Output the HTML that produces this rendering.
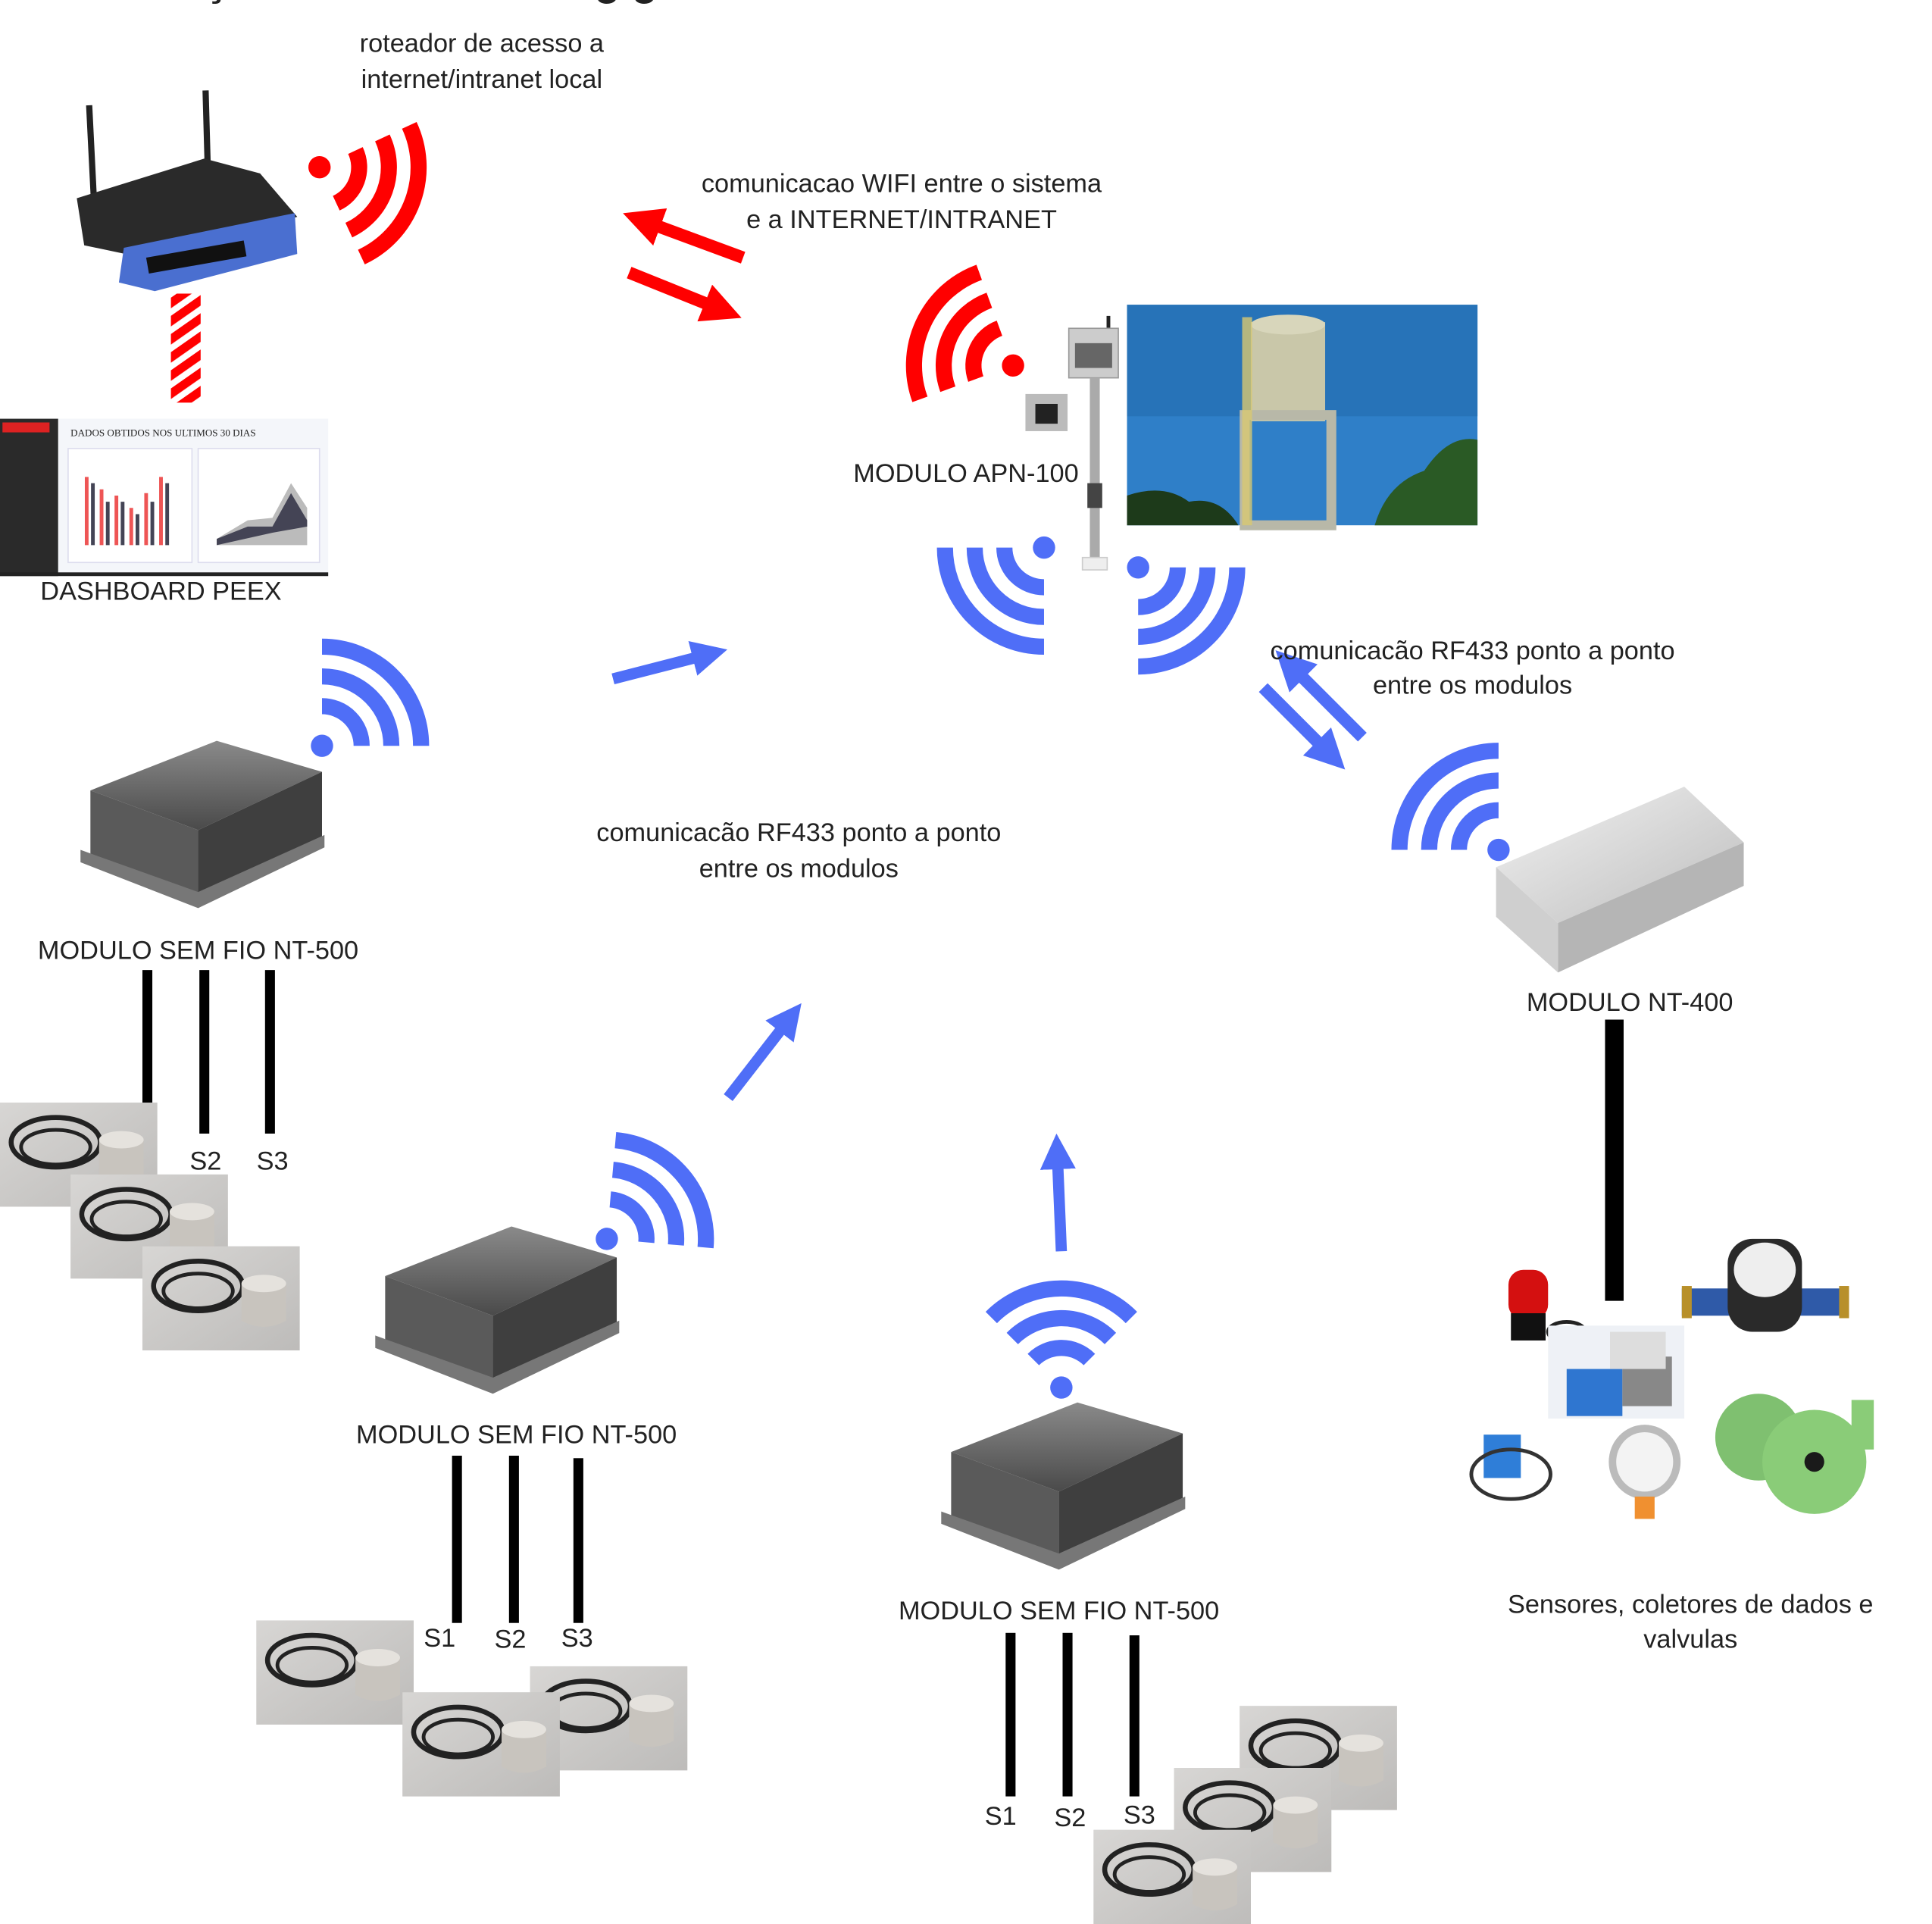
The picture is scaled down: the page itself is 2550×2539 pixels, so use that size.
<!DOCTYPE html>
<html><head><meta charset="utf-8"><style>
html,body{margin:0;padding:0;background:#fff}
svg{display:block}
text{font-family:"Liberation Sans",sans-serif;fill:#222;font-size:21px}
</style></head><body>
<svg width="2550" height="2539" viewBox="0 0 1560 1553" preserveAspectRatio="none" xmlns="http://www.w3.org/2000/svg">
<defs>
<g id="wifi">
<circle cx="0" cy="0" r="9" fill="currentColor"/>
<g fill="none" stroke="currentColor" stroke-width="13">
<path d="M0,-32 A32,32 0 0 1 32,0"/>
<path d="M0,-56 A56,56 0 0 1 56,0"/>
<path d="M0,-80 A80,80 0 0 1 80,0"/>
</g></g>
<marker id="mr" viewBox="0 0 10 10" refX="2" refY="5" markerWidth="3.2" markerHeight="3.2" orient="auto"><path d="M0,0 L10,5 L0,10 z" fill="#f00"/></marker>
<marker id="mb" viewBox="0 0 10 10" refX="2" refY="5" markerWidth="3.2" markerHeight="3.2" orient="auto"><path d="M0,0 L10,5 L0,10 z" fill="#4f6ef7"/></marker>
<pattern id="stripe" width="12" height="12" patternUnits="userSpaceOnUse" patternTransform="rotate(-35)"><rect width="12" height="12" fill="#fff"/><rect width="12" height="7" fill="#f00"/></pattern>
<linearGradient id="dk" x1="0" y1="0" x2="0" y2="1"><stop offset="0" stop-color="#8a8a8a"/><stop offset="1" stop-color="#4a4a4a"/></linearGradient>
<linearGradient id="lt" x1="0" y1="0" x2="1" y2="1"><stop offset="0" stop-color="#f2f2f2"/><stop offset="1" stop-color="#bdbdbd"/></linearGradient>
<g id="box">
<polygon points="8,40 110,0 195,25 95,72" fill="url(#dk)"/>
<polygon points="8,40 95,72 95,125 8,92" fill="#5a5a5a"/>
<polygon points="95,72 195,25 195,80 95,125" fill="#3f3f3f"/>
<polygon points="0,88 95,122 197,76 197,86 95,135 0,98" fill="#777"/>
</g>
<g id="sens">
<rect width="127" height="84" fill="#bdbab6"/>
<rect width="127" height="84" fill="url(#lt)" opacity="0.5"/>
<ellipse cx="45" cy="32" rx="36" ry="20" fill="none" stroke="#222" stroke-width="4"/>
<ellipse cx="45" cy="36" rx="28" ry="14" fill="none" stroke="#222" stroke-width="3"/>
<path d="M80,30 L80,60 Q98,70 116,60 L116,30 Z" fill="#c8c4be"/>
<ellipse cx="98" cy="30" rx="18" ry="7" fill="#e5e2dd"/>
</g>
</defs>

<text x="165" y="-4" style="font-size:34px;font-weight:bold">ç</text>
<text x="480" y="-4" style="font-size:34px;font-weight:bold">g g</text>

<!-- router -->
<line x1="72" y1="85" x2="76" y2="165" stroke="#222" stroke-width="5"/>
<line x1="166" y1="73" x2="168" y2="145" stroke="#222" stroke-width="5"/>
<polygon points="62,160 165,128 210,140 240,175 125,210 68,198" fill="#2a2a2a"/>
<polygon points="100,200 238,172 240,205 125,235 96,228" fill="#4a6fd0"/>
<rect x="118" y="208" width="80" height="13" fill="#111" transform="rotate(-10 118 208)"/>
<text x="389" y="42" text-anchor="middle">roteador de acesso a</text>
<text x="389" y="71" text-anchor="middle">internet/intranet local</text>
<use href="#wifi" x="258" y="135" style="color:#f00" transform="rotate(65 258 135)"/>
<rect x="138" y="237" width="24" height="88" fill="url(#stripe)"/>

<!-- dashboard -->
<rect x="0" y="338" width="47" height="127" fill="#2a2a2a"/>
<rect x="2" y="341" width="38" height="8" fill="#d22"/>
<rect x="47" y="338" width="218" height="127" fill="#f4f6fa"/>
<text x="57" y="352" style="font-size:8px;font-family:'Liberation Serif',serif">DADOS OBTIDOS NOS ULTIMOS 30 DIAS</text>
<rect x="55" y="362" width="100" height="92" fill="#fff" stroke="#dde" />
<rect x="160" y="362" width="98" height="92" fill="#fff" stroke="#dde"/>
<g stroke-width="3"><path d="M70,440V385M82,440V395M94,440V400M106,440V410M118,440V398M130,440V385" stroke="#e55"/><path d="M75,440V390M87,440V405M99,440V405M111,440V415M123,440V405M135,440V390" stroke="#445"/></g>
<polygon points="175,435 200,420 220,418 235,390 248,410 248,440 175,440" fill="#bbb"/>
<polygon points="175,435 200,425 220,425 235,398 248,420 248,425 220,430 175,440" fill="#445"/>
<rect x="0" y="462" width="265" height="3" fill="#222"/>
<text x="130" y="484" text-anchor="middle">DASHBOARD PEEX</text>

<!-- red arrows -->
<line x1="600" y1="208" x2="527" y2="181" stroke="#f00" stroke-width="10" marker-end="url(#mr)"/>
<line x1="508" y1="220" x2="575" y2="247" stroke="#f00" stroke-width="10" marker-end="url(#mr)"/>
<text x="728" y="155" text-anchor="middle">comunicacao WIFI entre o sistema</text>
<text x="728" y="184" text-anchor="middle">e a INTERNET/INTRANET</text>

<!-- APN -->
<use href="#wifi" x="818" y="295" style="color:#f00" transform="rotate(-110 818 295)"/>
<line x1="895" y1="255" x2="895" y2="270" stroke="#222" stroke-width="3"/>
<rect x="863" y="265" width="40" height="40" fill="#ccc" stroke="#999"/>
<rect x="868" y="277" width="30" height="20" fill="#666"/>
<rect x="880" y="305" width="8" height="150" fill="#aaa"/>
<rect x="878" y="390" width="12" height="20" fill="#444"/>
<rect x="828" y="318" width="34" height="30" fill="#bbb"/>
<rect x="836" y="326" width="18" height="16" fill="#222"/>
<rect x="874" y="450" width="20" height="10" fill="#eee" stroke="#ccc"/>
<rect x="910" y="246" width="283" height="178" fill="#2f7fc8"/>
<rect x="910" y="246" width="283" height="90" fill="#2773b8"/>
<rect x="1010" y="260" width="60" height="80" fill="#c9c7a9"/>
<ellipse cx="1040" cy="262" rx="30" ry="8" fill="#d8d6bb"/>
<rect x="1005" y="335" width="70" height="89" fill="none" stroke="#b8b8a8" stroke-width="8"/>
<rect x="1003" y="256" width="8" height="168" fill="#d8c870" opacity="0.8"/>
<path d="M910,424 L910,400 Q940,390 960,405 Q985,400 1000,424Z" fill="#1d3a1a"/>
<path d="M1110,424 Q1120,390 1150,380 Q1170,350 1193,355 L1193,424Z" fill="#2a5a25"/>
<text x="780" y="389" text-anchor="middle">MODULO APN-100</text>
<use href="#wifi" x="843" y="442" style="color:#4f6ef7" transform="rotate(180 843 442)"/>
<use href="#wifi" x="919" y="458" style="color:#4f6ef7" transform="rotate(90 919 458)"/>

<!-- right blue arrows -->
<line x1="1100" y1="595" x2="1048" y2="543" stroke="#4f6ef7" stroke-width="10" marker-end="url(#mb)"/>
<line x1="1020" y1="555" x2="1068" y2="603" stroke="#4f6ef7" stroke-width="10" marker-end="url(#mb)"/>
<text x="1189" y="532" text-anchor="middle">comunicacão RF433 ponto a ponto</text>
<text x="1189" y="560" text-anchor="middle">entre os modulos</text>

<!-- NT-400 -->
<use href="#wifi" x="1210" y="686" style="color:#4f6ef7" transform="rotate(-90 1210 686)"/>
<polygon points="1208,700 1360,635 1408,680 1258,745" fill="url(#lt)"/>
<polygon points="1208,700 1258,745 1258,785 1208,740" fill="#cfcfcf"/>
<polygon points="1258,745 1408,680 1408,715 1258,785" fill="#b5b5b5"/>
<text x="1316" y="816" text-anchor="middle">MODULO NT-400</text>
<rect x="1296" y="823" width="15" height="227" fill="#000"/>

<!-- sensors cluster -->
<rect x="1218" y="1025" width="32" height="40" rx="12" fill="#d41010"/>
<rect x="1220" y="1060" width="28" height="22" fill="#111"/>
<ellipse cx="1265" cy="1075" rx="15" ry="8" fill="none" stroke="#222" stroke-width="3"/>
<rect x="1250" y="1070" width="110" height="75" fill="#eef1f6"/>
<rect x="1265" y="1105" width="45" height="38" fill="#2f76d0"/>
<rect x="1310" y="1095" width="40" height="40" fill="#888"/>
<rect x="1300" y="1075" width="45" height="30" fill="#ddd"/>
<rect x="1358" y="1040" width="135" height="22" fill="#2f5aa8"/>
<rect x="1358" y="1038" width="8" height="26" fill="#b8902a"/><rect x="1485" y="1038" width="8" height="26" fill="#b8902a"/>
<rect x="1395" y="1000" width="60" height="75" rx="20" fill="#2a2a2a"/>
<ellipse cx="1425" cy="1025" rx="25" ry="22" fill="#eee"/>
<ellipse cx="1328" cy="1180" rx="29" ry="30" fill="#bbb"/>
<ellipse cx="1328" cy="1180" rx="23" ry="24" fill="#f3f3f3"/>
<rect x="1320" y="1208" width="16" height="18" fill="#f09030"/>
<rect x="1198" y="1158" width="30" height="35" fill="#2f7ed8"/>
<ellipse cx="1220" cy="1190" rx="32" ry="20" fill="none" stroke="#333" stroke-width="3"/>
<circle cx="1420" cy="1160" r="35" fill="#7fc070"/>
<circle cx="1465" cy="1180" r="42" fill="#8acc78"/>
<rect x="1495" y="1130" width="18" height="40" fill="#8acc78"/>
<circle cx="1465" cy="1180" r="8" fill="#1a1a1a"/>
<text x="1365" y="1302" text-anchor="middle">Sensores, coletores de dados e</text>
<text x="1365" y="1330" text-anchor="middle">valvulas</text>

<!-- left module -->
<use href="#wifi" x="260" y="602" style="color:#4f6ef7"/>
<use href="#box" x="65" y="598"/>
<text x="160" y="774" text-anchor="middle">MODULO SEM FIO NT-500</text>
<rect x="115" y="783" width="8" height="107" fill="#000"/>
<rect x="161" y="783" width="8" height="132" fill="#000"/>
<rect x="214" y="783" width="8" height="132" fill="#000"/>
<text x="166" y="944" text-anchor="middle">S2</text>
<text x="220" y="944" text-anchor="middle">S3</text>
<use href="#sens" x="0" y="890"/>
<use href="#sens" x="57" y="948"/>
<use href="#sens" x="115" y="1006"/>

<line x1="495" y1="548" x2="565" y2="530" stroke="#4f6ef7" stroke-width="9" marker-end="url(#mb)"/>
<text x="645" y="679" text-anchor="middle">comunicacão RF433 ponto a ponto</text>
<text x="645" y="708" text-anchor="middle">entre os modulos</text>
<line x1="588" y1="886" x2="633" y2="828" stroke="#4f6ef7" stroke-width="9" marker-end="url(#mb)"/>

<!-- middle module -->
<use href="#wifi" x="490" y="1000" style="color:#4f6ef7" transform="rotate(5 490 1000)"/>
<use href="#box" x="303" y="990"/>
<text x="417" y="1165" text-anchor="middle">MODULO SEM FIO NT-500</text>
<rect x="365" y="1175" width="8" height="135" fill="#000"/>
<rect x="411" y="1175" width="8" height="135" fill="#000"/>
<rect x="463" y="1177" width="8" height="133" fill="#000"/>
<text x="355" y="1329" text-anchor="middle">S1</text>
<text x="412" y="1330" text-anchor="middle">S2</text>
<text x="466" y="1329" text-anchor="middle">S3</text>
<use href="#sens" x="207" y="1308"/>
<use href="#sens" x="428" y="1345"/>
<use href="#sens" x="325" y="1366"/>

<!-- bottom module -->
<line x1="857" y1="1010" x2="854" y2="938" stroke="#4f6ef7" stroke-width="9" marker-end="url(#mb)"/>
<use href="#wifi" x="857" y="1120" style="color:#4f6ef7" transform="rotate(-45 857 1120)"/>
<use href="#box" x="760" y="1132"/>
<text x="855" y="1307" text-anchor="middle">MODULO SEM FIO NT-500</text>
<rect x="812" y="1318" width="8" height="132" fill="#000"/>
<rect x="858" y="1318" width="8" height="132" fill="#000"/>
<rect x="912" y="1320" width="8" height="130" fill="#000"/>
<text x="808" y="1473" text-anchor="middle">S1</text>
<text x="864" y="1474" text-anchor="middle">S2</text>
<text x="920" y="1472" text-anchor="middle">S3</text>
<use href="#sens" x="1001" y="1377"/>
<use href="#sens" x="948" y="1427"/>
<use href="#sens" x="883" y="1477"/>
</svg>
</body></html>
